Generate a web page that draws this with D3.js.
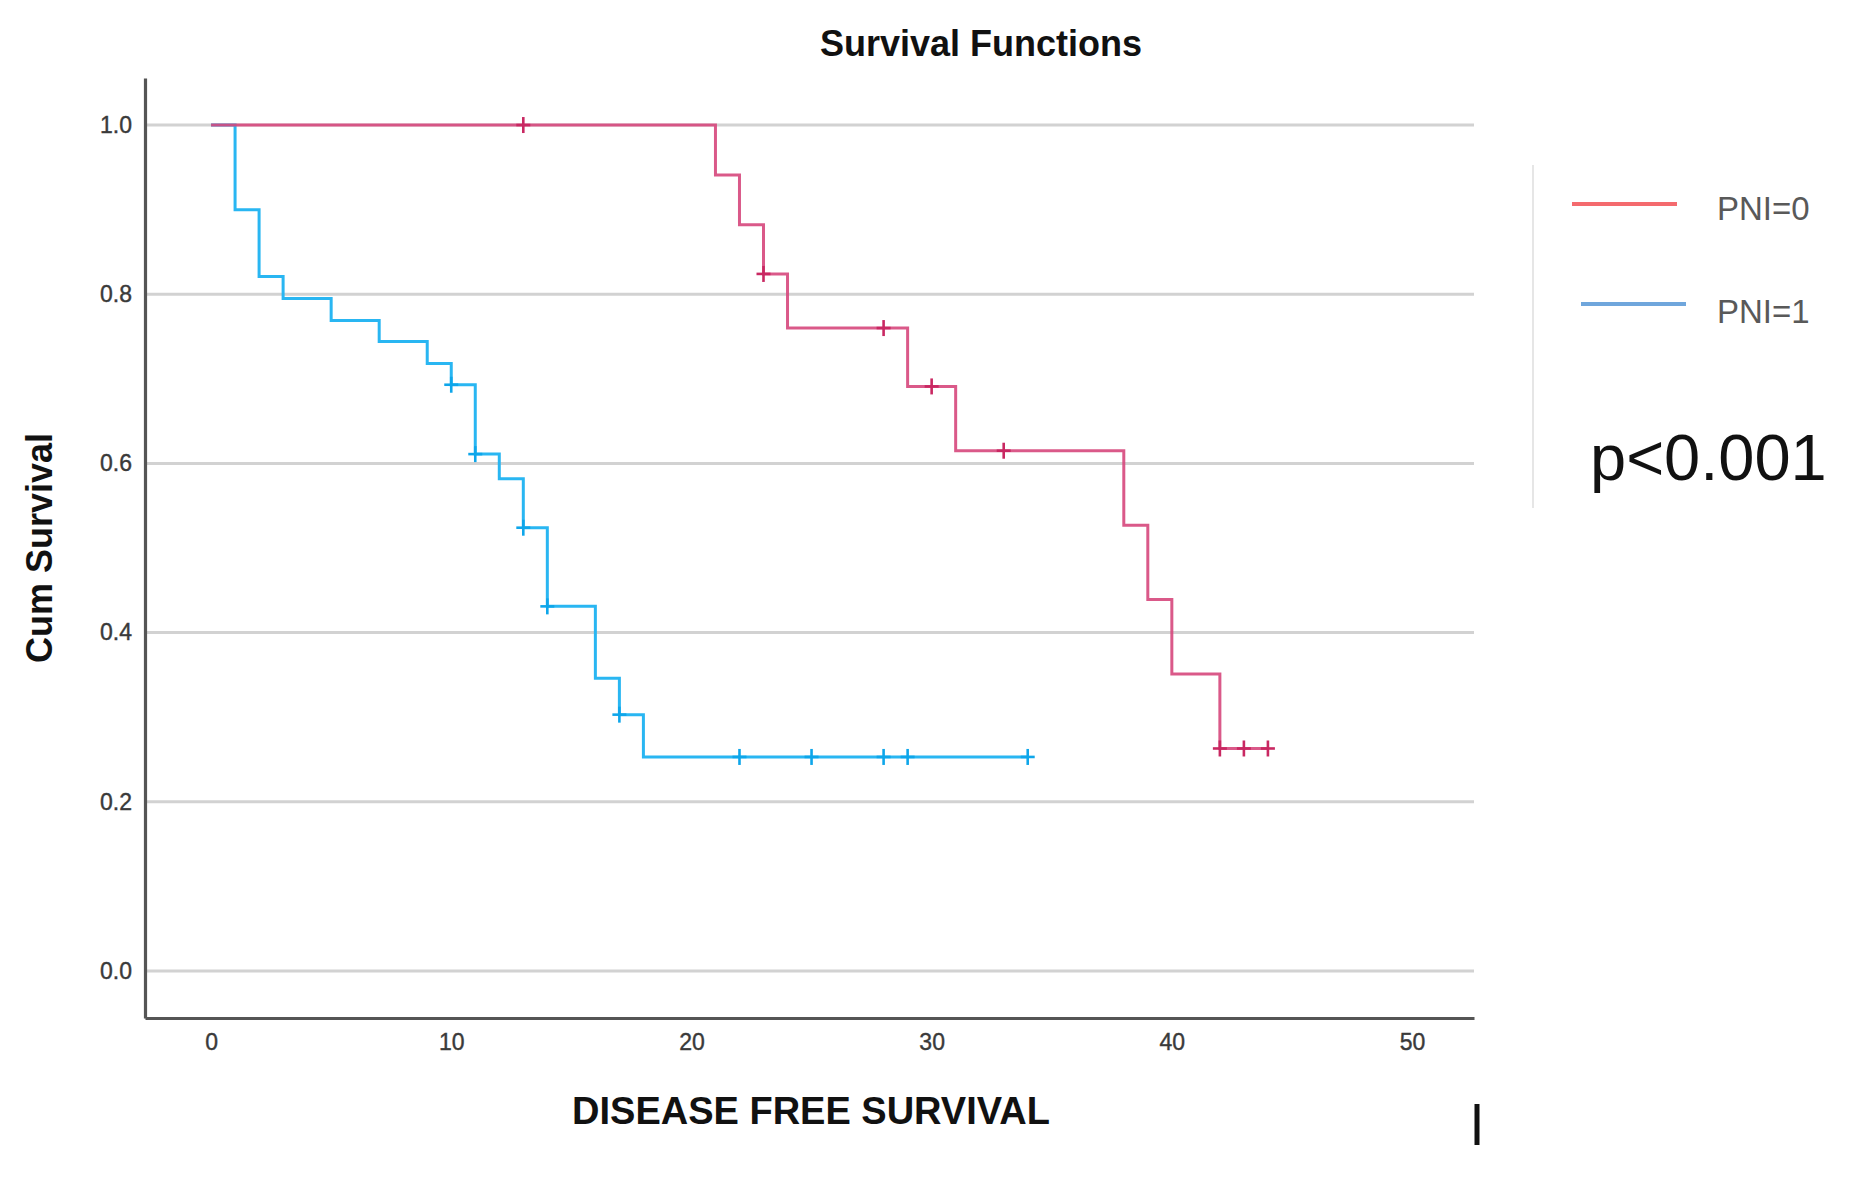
<!DOCTYPE html>
<html>
<head>
<meta charset="utf-8">
<script src="https://cdn.jsdelivr.net/npm/d3@7"></script>
<style>
  body { margin: 0; background: #fff; }
  svg { display: block; font-family: "Liberation Sans", Arial, sans-serif; }
</style>
</head>
<body>
<div id="chart"></div>
<script>
// Kaplan-Meier steps
const pni0Times    = [0, 21, 22, 23, 24, 29, 31, 38, 39, 40, 42];
const pni0Surv     = [1.0, 0.941, 0.882, 0.824, 0.760, 0.691, 0.615, 0.527, 0.439, 0.351, 0.263];
const pni0Censored = [13, 23, 28, 30, 33, 42, 43, 44];

const pni1Times    = [0, 1, 2, 3, 5, 7, 9, 10, 11, 12, 13, 14, 16, 17, 18];
const pni1Surv     = [1.0, 0.900, 0.821, 0.795, 0.769, 0.744, 0.718, 0.693, 0.611, 0.582, 0.524, 0.431, 0.346, 0.303, 0.253];
const pni1Censored = [10, 11, 13, 14, 17, 22, 25, 28, 29, 34];

const xTicks = [0, 10, 20, 30, 40, 50];
const yTicks = [0.0, 0.2, 0.4, 0.6, 0.8, 1.0];
const legendLabels = ['PNI=0', 'PNI=1'];

const W = 1852, H = 1180;
const plot = {left: 145, right: 1474, top: 78, bottom: 1018};

const svg = d3.select('#chart').append('svg')
  .attr('width', W).attr('height', H);

const x = d3.scaleLinear().domain([-2.75, 52.58]).range([plot.left, plot.right]);
const y = d3.scaleLinear().domain([-0.0556, 1.0556]).range([plot.bottom, plot.top]);

// gridlines
svg.append('g').selectAll('line').data(yTicks).join('line')
  .attr('x1', plot.left).attr('x2', plot.right)
  .attr('y1', d => y(d)).attr('y2', d => y(d))
  .attr('stroke', '#d2d2d2').attr('stroke-width', 3);

// axes
const yAxis = svg.append('g').attr('transform', `translate(${plot.left},0)`)
  .call(d3.axisLeft(y).tickValues(yTicks).tickFormat(d3.format('.1f')).tickSize(0).tickPadding(13));
const xAxis = svg.append('g').attr('transform', `translate(0,${plot.bottom})`)
  .call(d3.axisBottom(x).tickValues(xTicks).tickFormat(d3.format('d')).tickSize(0).tickPadding(16));
[xAxis, yAxis].forEach(a => {
  a.select('.domain').attr('stroke', '#555').attr('stroke-width', 3.2);
  a.selectAll('text').attr('font-size', 23).attr('fill', '#3a3a3a')
    .attr('stroke', '#3a3a3a').attr('stroke-width', 0.4)
    .attr('font-family', '"Liberation Sans", Arial, sans-serif');
});

// survival curves
function drawCurve(times, surv, censored, color, markColor, opacity) {
  const end = d3.max(censored.concat(times));
  const pts = times.map((t, i) => [t, surv[i]]);
  pts.push([end, surv[surv.length - 1]]);
  const line = d3.line().x(d => x(d[0])).y(d => y(d[1])).curve(d3.curveStepAfter);
  svg.append('path').datum(pts)
    .attr('d', line).attr('fill', 'none')
    .attr('stroke', color).attr('stroke-width', 3).attr('opacity', opacity);

  const survAt = t => surv[d3.bisectRight(times, t) - 1];
  const g = svg.append('g');
  censored.forEach(t => {
    g.append('line')
      .attr('x1', x(t)).attr('x2', x(t))
      .attr('y1', y(survAt(t)) - 8).attr('y2', y(survAt(t)) + 8)
      .attr('stroke', markColor).attr('stroke-width', 2.6);
    g.append('line')
      .attr('x1', x(t) - 7).attr('x2', x(t) + 7)
      .attr('y1', y(survAt(t))).attr('y2', y(survAt(t)))
      .attr('stroke', markColor).attr('stroke-width', 2.6);
  });
}
drawCurve(pni1Times, pni1Surv, pni1Censored, '#29b6f2', '#0ea6ea', 1);
drawCurve(pni0Times, pni0Surv, pni0Censored, '#d6477c', '#c92862', 0.9);

// title & axis titles
svg.append('text').attr('x', 981).attr('y', 56)
  .attr('text-anchor', 'middle').attr('font-size', 36).attr('font-weight', 'bold')
  .attr('fill', '#111').text('Survival Functions');
svg.append('text').attr('x', 811).attr('y', 1124)
  .attr('text-anchor', 'middle').attr('font-size', 38).attr('font-weight', 'bold')
  .attr('fill', '#111').text('DISEASE FREE SURVIVAL');
svg.append('text').attr('transform', 'translate(52,548) rotate(-90)')
  .attr('text-anchor', 'middle').attr('font-size', 36).attr('font-weight', 'bold')
  .attr('fill', '#111').text('Cum Survival');

// stray marker under the axis
svg.append('line').attr('x1', 1477).attr('x2', 1477).attr('y1', 1104).attr('y2', 1145)
  .attr('stroke', '#111').attr('stroke-width', 5);

// legend
svg.append('line').attr('x1', 1533).attr('x2', 1533).attr('y1', 165).attr('y2', 508)
  .attr('stroke', '#e6e6e6').attr('stroke-width', 2);
const legendColors = ['#f46a6e', '#6fa6dc'];
const legendY = [204, 304];
const legendX = [1572, 1581];
legendLabels.forEach((lab, i) => {
  svg.append('line')
    .attr('x1', legendX[i]).attr('x2', legendX[i] + 105)
    .attr('y1', legendY[i]).attr('y2', legendY[i])
    .attr('stroke', legendColors[i]).attr('stroke-width', 4);
  svg.append('text').attr('x', 1717).attr('y', legendY[i] + (i === 0 ? 16 : 19))
    .attr('font-size', 33).attr('fill', '#595959').text(lab);
});
svg.append('text').attr('x', 1590).attr('y', 480)
  .attr('font-size', 65).attr('fill', '#111').text('p<0.001');
</script>
</body>
</html>
